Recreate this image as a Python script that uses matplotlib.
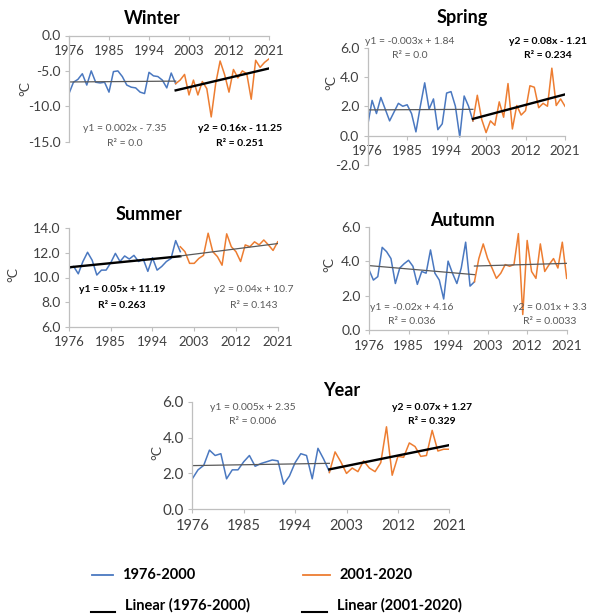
import numpy as np
import matplotlib
matplotlib.use('Agg')
import matplotlib.pyplot as plt
from matplotlib.lines import Line2D
from matplotlib.ticker import FormatStrFormatter

plt.rcParams['font.family'] = ['Lato', 'DejaVu Sans']
plt.rcParams['axes.unicode_minus'] = False

# years: blue series 1976-2000, orange series 2000-2021
years1 = list(range(1976, 2001))
years2 = list(range(2000, 2022))
xticks = [1976, 1985, 1994, 2003, 2012, 2021]

winter1 = [-8.2, -6.6, -6.2, -5.4, -7.0, -5.0, -6.6, -6.7, -6.6, -8.0, -5.1, -5.0, -5.8,
           -7.0, -7.3, -7.4, -8.0, -8.2, -5.2, -5.7, -5.8, -6.3, -7.4, -5.3, -6.8]
winter2 = [-6.8, -6.3, -5.5, -8.4, -6.3, -8.4, -6.5, -7.5, -11.5, -6.8, -3.6, -5.5, -8.0,
           -4.8, -6.0, -5.0, -5.4, -9.0, -3.5, -4.5, -3.8, -3.3]

spring1 = [0.7, 2.4, 1.5, 2.6, 1.8, 1.0, 1.6, 2.2, 2.0, 2.1, 1.5, 0.25, 2.0, 3.6, 1.8,
           2.5, 0.4, 0.8, 2.9, 3.0, 2.0, -0.1, 2.7, 2.0, 1.0]
spring2 = [1.0, 2.75, 1.1, 0.2, 1.0, 0.7, 2.3, 1.25, 3.55, 0.45, 2.05, 1.4, 1.7, 3.4,
           3.3, 1.9, 2.2, 2.0, 4.6, 2.05, 2.5, 2.0]

summer1 = [10.75, 10.9, 10.3, 11.3, 12.05, 11.4, 10.2, 10.6, 10.6, 11.2, 11.96, 11.3,
           11.75, 11.5, 11.8, 11.3, 11.5, 10.5, 11.6, 10.6, 10.9, 11.3, 11.55, 13.0, 12.1]
summer2 = [12.5, 12.1, 11.15, 11.15, 11.55, 11.8, 13.6, 12.1, 11.7, 11.0, 13.55, 12.5,
           12.1, 11.3, 12.65, 12.5, 12.9, 12.65, 13.05, 12.65, 12.2, 12.9]

autumn1 = [3.5, 2.9, 3.1, 4.8, 4.55, 4.15, 2.7, 3.6, 3.85, 4.05, 3.7, 2.65, 3.4, 3.3,
           4.65, 3.3, 2.9, 1.8, 4.0, 3.3, 2.7, 3.6, 5.1, 2.55, 2.8]
autumn2 = [2.8, 4.15, 5.0, 4.15, 3.6, 3.0, 3.3, 3.8, 3.7, 3.8, 5.6, 0.9, 5.2, 3.4, 3.0,
           5.0, 3.4, 3.8, 4.15, 3.6, 5.1, 3.0]

year1 = [1.7, 2.2, 2.45, 3.3, 3.0, 3.1, 1.7, 2.2, 2.2, 2.65, 3.0, 2.4, 2.55, 2.65, 2.75,
         2.7, 1.4, 1.85, 2.6, 3.1, 3.0, 1.7, 3.4, 2.8, 2.1]
year2 = [2.05, 3.2, 2.65, 2.0, 2.3, 2.1, 2.7, 2.3, 2.1, 2.6, 4.6, 1.9, 2.95, 2.9, 3.7,
         3.5, 2.95, 3.0, 4.4, 3.25, 3.35, 3.35]

BLUE = '#4a78c0'
ORANGE = '#ed7d31'
GRAY = '#595959'
AXC = '#bfbfbf'
W, H = 590, 616

fig = plt.figure(figsize=(5.9, 6.16), dpi=100)


def ftxt(x, y, s, **kw):
    fig.text(x / W, 1 - y / H, s, ha='center', va='center', **kw)


def panel(box, d1, d2, ylim, ystep, cross, sig, eqs, title, tpos, ylpos, fs=9.5):
    x0, y0, x1, y1 = box
    ax = fig.add_axes([x0 / W, 1 - y1 / H, (x1 - x0) / W, (y1 - y0) / H])
    ax.plot(years1, d1, color=BLUE, lw=1.1)
    ax.plot(years2, d2, color=ORANGE, lw=1.1)
    for xs, ys, s in ((years1, d1, sig[0]), (years2, d2, sig[1])):
        k, b = np.polyfit(xs, ys, 1)
        xx = np.array([xs[0], xs[-1]])
        ax.plot(xx, k * xx + b, color='black' if s else GRAY, lw=1.7 if s else 0.9)
    ax.set_xlim(1976, 2021)
    ax.set_ylim(*ylim)
    ax.set_xticks(xticks)
    ax.set_yticks(np.arange(ylim[0], ylim[1] + 0.01, ystep))
    ax.yaxis.set_major_formatter(FormatStrFormatter('%.1f'))
    for sp in ('top', 'right'):
        ax.spines[sp].set_visible(False)
    ax.spines['bottom'].set_position(('data', cross))
    for sp in ('left', 'bottom'):
        ax.spines[sp].set_color(AXC)
        ax.spines[sp].set_linewidth(0.9)
    ax.tick_params(axis='x', colors=AXC, labelcolor='#404040', labelsize=fs, length=3, pad=4)
    ax.tick_params(axis='y', colors=AXC, labelcolor='#404040', labelsize=fs + 0.5, length=3, pad=3)
    ax.patch.set_alpha(0)
    ftxt(*tpos, title, fontsize=13, fontweight='bold', color='black')
    ftxt(*ylpos, '°C', fontsize=10, rotation=90, color='#404040')
    for (x, y, line1, line2), s in zip(eqs, sig):
        kw = dict(fontsize=7.5, color='black' if s else GRAY, fontweight='bold' if s else 'normal')
        ftxt(x, y, line1, **kw)
        ftxt(x, y + 15, line2, **kw)
    return ax


panel((69, 35.5, 269, 141.7), winter1, winter2, (-15, 0), 5, 0, (False, True),
      [(125, 128, 'y1 = 0.002x - 7.35', 'R² = 0.0'), (240, 128, 'y2 = 0.16x - 11.25', 'R² = 0.251')],
      'Winter', (152, 18), (25, 88))

panel((367.7, 47.7, 565, 164.8), spring1, spring2, (-2, 6), 2, 0, (False, True),
      [(410, 41, 'y1 = -0.003x + 1.84', 'R² = 0.0'), (548, 41, 'y2 = 0.08x - 1.21', 'R² = 0.234')],
      'Spring', (462, 18), (331, 83))

panel((69, 228.3, 277.7, 326.7), summer1, summer2, (6, 14), 2, 6, (True, False),
      [(122, 290, 'y1 = 0.05x + 11.19', 'R² = 0.263'), (254, 290, 'y2 = 0.04x + 10.7', 'R² = 0.143')],
      'Summer', (149, 215), (13, 275))

panel((369, 226.7, 566.7, 330), autumn1, autumn2, (0, 6), 2, 0, (False, False),
      [(412, 307, 'y1 = -0.02x + 4.16', 'R² = 0.036'), (550, 307, 'y2 = 0.01x + 3.3', 'R² = 0.0033')],
      'Autumn', (462, 220), (329, 265))

panel((192.3, 401.7, 449.3, 509.3), year1, year2, (0, 6), 2, 0, (False, True),
      [(253, 407, 'y1 = 0.005x + 2.35', 'R² = 0.006'), (432, 407, 'y2 = 0.07x + 1.27', 'R² = 0.329')],
      'Year', (342, 391), (157, 453), fs=10.5)

# legend
def leg_line(xa, xb, y, color, lw):
    fig.add_artist(Line2D([xa / W, xb / W], [1 - y / H, 1 - y / H], color=color, lw=lw,
                          transform=fig.transFigure))


leg_line(92, 113, 575, BLUE, 1.3)
fig.text(122 / W, 1 - 575 / H, '1976-2000', ha='left', va='center', fontsize=10.5, fontweight='bold')
leg_line(303, 330, 575, ORANGE, 1.3)
fig.text(340 / W, 1 - 575 / H, '2001-2020', ha='left', va='center', fontsize=10.5, fontweight='bold')
leg_line(91, 115, 612, 'black', 1.5)
fig.text(125 / W, 1 - 605 / H, 'Linear (1976-2000)', ha='left', va='center', fontsize=10.5, fontweight='bold')
leg_line(302, 327, 612, 'black', 1.5)
fig.text(337 / W, 1 - 605 / H, 'Linear (2001-2020)', ha='left', va='center', fontsize=10.5, fontweight='bold')

fig.savefig('out.png', dpi=100, facecolor='white')
